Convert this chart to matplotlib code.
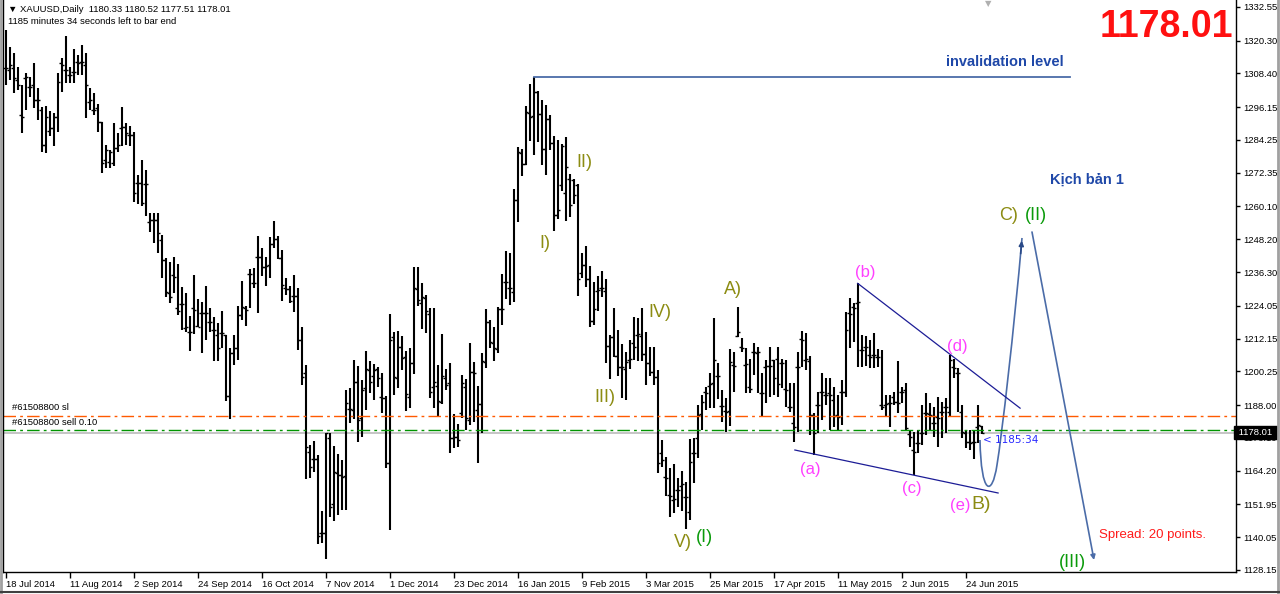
import matplotlib
matplotlib.use('Agg')
import numpy as np
import matplotlib.pyplot as plt
from matplotlib.path import Path
from matplotlib.patches import PathPatch
from matplotlib.lines import Line2D

# XAUUSD daily bars (one bar per trading day, 18 Jul 2014 .. 30 Jun 2015)
opens = [1310.2, 1309.6, 1310.2, 1306.0, 1293.3, 1306.6, 1303.6, 1304.2, 1298.8, 1295.1,
         1282.4, 1287.5, 1288.5, 1292.7, 1312.1, 1309.6, 1307.8, 1309.0, 1312.7, 1312.7,
         1311.5, 1298.2, 1295.1, 1295.7, 1290.9, 1277.0, 1276.4, 1275.8, 1281.2, 1288.5,
         1289.1, 1286.1, 1286.1, 1268.8, 1268.5, 1268.3, 1254.6, 1255.2, 1255.2, 1247.9,
         1240.7, 1228.6, 1235.2, 1223.1, 1224.7, 1216.0, 1214.7, 1223.1, 1216.8, 1221.3,
         1221.3, 1218.3, 1215.3, 1213.5, 1214.1, 1213.5, 1191.3, 1207.0, 1208.6, 1220.7,
         1223.1, 1235.5, 1232.2, 1241.6, 1241.6, 1238.3, 1238.9, 1246.5, 1248.2, 1241.3,
         1230.4, 1230.0, 1227.6, 1227.6, 1211.6, 1199.5, 1171.1, 1168.3, 1168.3, 1141.5,
         1141.7, 1176.0, 1152.0, 1163.5, 1162.5, 1162.3, 1186.5, 1186.2, 1196.5, 1183.2,
         1194.1, 1200.7, 1198.6, 1201.0, 1190.8, 1190.5, 1167.0, 1212.9, 1197.7, 1209.0,
         1205.6, 1190.8, 1203.4, 1230.0, 1225.2, 1226.8, 1221.1, 1194.5, 1194.9, 1189.3,
         1197.7, 1195.9, 1175.9, 1176.3, 1185.0, 1194.5, 1182.6, 1200.2, 1186.2, 1188.4,
         1203.8, 1218.3, 1210.7, 1208.2, 1222.8, 1232.8, 1230.4, 1229.2, 1262.5, 1279.6,
         1275.5, 1294.2, 1292.9, 1301.5, 1293.7, 1281.0, 1291.7, 1283.0, 1257.0, 1268.0,
         1265.0, 1270.0, 1269.7, 1267.9, 1235.9, 1238.9, 1233.7, 1218.7, 1229.6, 1230.4,
         1229.5, 1209.5, 1212.6, 1206.0, 1202.0, 1201.0, 1204.4, 1210.4, 1213.5, 1213.0,
         1206.6, 1203.2, 1200.2, 1198.3, 1170.5, 1162.0, 1155.4, 1153.6, 1157.2, 1158.6,
         1154.8, 1149.3, 1170.7, 1176.0, 1184.9, 1192.9, 1195.0, 1196.0, 1198.6, 1187.6,
         1185.8, 1186.0, 1202.6, 1213.1, 1209.0, 1202.6, 1194.7, 1207.4, 1207.0, 1192.3,
         1202.0, 1202.2, 1204.4, 1204.6, 1203.4, 1193.7, 1187.4, 1181.6, 1202.0, 1211.9,
         1204.4, 1204.0, 1184.4, 1188.0, 1192.9, 1191.7, 1192.3, 1190.0, 1184.4, 1192.9,
         1192.9, 1221.3, 1223.7, 1225.0, 1208.0, 1209.2, 1206.2, 1206.2, 1205.6, 1188.0,
         1188.0, 1188.6, 1191.1, 1189.3, 1192.9, 1193.5, 1177.5, 1171.7, 1174.1, 1177.8,
         1185.0, 1184.8, 1181.4, 1183.8, 1185.6, 1187.4, 1185.6, 1201.7, 1199.5, 1185.6,
         1177.8, 1174.7, 1174.7, 1180.2, 1180.33]
highs = [1324.2, 1318.1, 1315.7, 1310.9, 1304.2, 1308.4, 1307.2, 1312.1, 1303.0, 1296.3,
         1296.6, 1294.8, 1293.9, 1308.4, 1314.1, 1322.0, 1310.9, 1317.2, 1315.1, 1318.7,
         1315.7, 1303.0, 1301.4, 1297.2, 1290.9, 1282.4, 1280.6, 1290.5, 1286.7, 1296.3,
         1290.3, 1289.3, 1287.3, 1271.5, 1277.0, 1273.4, 1257.6, 1257.6, 1257.6, 1249.8,
         1241.3, 1240.1, 1241.6, 1239.2, 1231.0, 1228.6, 1220.3, 1235.2, 1226.7, 1225.5,
         1231.3, 1223.1, 1220.1, 1217.7, 1222.3, 1213.5, 1208.6, 1213.5, 1224.0, 1233.2,
         1224.0, 1237.3, 1237.6, 1249.4, 1244.9, 1241.6, 1248.9, 1254.8, 1249.4, 1244.3,
         1234.0, 1231.2, 1235.2, 1230.6, 1216.5, 1202.6, 1173.5, 1175.0, 1169.9, 1149.6,
         1177.8, 1177.8, 1173.2, 1170.3, 1168.1, 1193.5, 1194.1, 1204.4, 1202.2, 1197.2,
         1207.6, 1204.0, 1202.9, 1202.0, 1199.5, 1191.3, 1221.1, 1214.7, 1215.0, 1213.1,
         1207.8, 1208.6, 1238.3, 1238.3, 1232.2, 1228.0, 1223.1, 1223.1, 1202.6, 1213.9,
         1201.0, 1203.4, 1184.8, 1181.1, 1198.9, 1197.4, 1210.4, 1203.8, 1194.9, 1207.0,
         1222.8, 1218.9, 1216.2, 1223.5, 1235.6, 1243.9, 1243.1, 1266.3, 1281.6, 1280.9,
         1296.6, 1304.6, 1307.2, 1302.1, 1298.8, 1297.0, 1293.3, 1285.7, 1284.2, 1282.8,
         1285.2, 1271.9, 1270.0, 1268.3, 1243.1, 1245.8, 1238.5, 1232.8, 1234.9, 1236.8,
         1233.8, 1213.5, 1223.1, 1215.3, 1210.2, 1207.4, 1211.6, 1219.9, 1219.5, 1223.1,
         1214.7, 1209.0, 1209.2, 1200.7, 1175.3, 1169.3, 1165.1, 1166.6, 1161.4, 1164.2,
         1160.2, 1175.6, 1175.9, 1188.0, 1191.7, 1194.7, 1199.5, 1219.5, 1203.2, 1193.5,
         1190.5, 1208.2, 1207.4, 1223.7, 1212.2, 1208.6, 1204.6, 1210.4, 1209.2, 1199.5,
         1204.4, 1209.0, 1204.4, 1209.0, 1204.6, 1204.4, 1195.9, 1195.9, 1207.4, 1215.0,
         1214.1, 1206.0, 1185.3, 1192.9, 1199.5, 1197.7, 1197.7, 1194.7, 1191.7, 1197.1,
         1221.9, 1226.8, 1225.0, 1232.2, 1213.5, 1213.1, 1211.6, 1214.3, 1208.2, 1208.0,
         1191.7, 1191.7, 1192.9, 1204.1, 1194.7, 1195.9, 1179.0, 1178.4, 1179.0, 1188.0,
         1192.5, 1188.6, 1187.4, 1191.1, 1189.3, 1190.5, 1206.2, 1204.6, 1201.4, 1188.0,
         1179.0, 1179.0, 1179.0, 1188.0, 1180.52]
lows = [1304.2, 1306.0, 1301.4, 1302.4, 1286.9, 1295.1, 1300.0, 1295.7, 1291.5, 1280.0,
        1279.6, 1285.7, 1282.1, 1287.3, 1301.8, 1304.8, 1304.8, 1304.8, 1307.8, 1307.8,
        1292.1, 1295.1, 1293.3, 1287.3, 1272.4, 1274.0, 1274.0, 1274.8, 1280.0, 1282.1,
        1282.4, 1282.1, 1261.9, 1261.0, 1260.3, 1256.7, 1251.0, 1247.0, 1243.1, 1234.0,
        1227.1, 1225.2, 1228.6, 1220.7, 1215.3, 1214.7, 1207.8, 1213.8, 1216.5, 1206.8,
        1211.6, 1214.7, 1204.1, 1204.1, 1208.6, 1189.6, 1182.8, 1202.6, 1204.4, 1218.9,
        1216.8, 1223.1, 1230.6, 1221.6, 1234.9, 1231.2, 1234.3, 1244.9, 1241.0, 1225.9,
        1228.0, 1225.0, 1221.9, 1208.0, 1195.3, 1161.1, 1161.4, 1163.8, 1137.6, 1138.1,
        1132.0, 1147.3, 1146.1, 1148.0, 1150.0, 1150.0, 1181.4, 1182.8, 1174.7, 1176.5,
        1186.2, 1192.5, 1189.9, 1194.7, 1185.3, 1165.1, 1142.7, 1191.7, 1194.1, 1200.7,
        1186.0, 1186.8, 1199.2, 1224.0, 1215.5, 1214.1, 1190.5, 1187.1, 1183.6, 1188.4,
        1193.5, 1170.5, 1172.3, 1172.7, 1183.2, 1179.0, 1180.8, 1182.0, 1167.1, 1178.0,
        1201.4, 1208.6, 1204.1, 1207.0, 1217.1, 1226.4, 1224.4, 1225.6, 1254.6, 1271.2,
        1275.2, 1284.0, 1278.8, 1283.6, 1275.2, 1271.5, 1280.6, 1251.3, 1255.4, 1265.8,
        1255.0, 1256.2, 1261.0, 1227.6, 1234.0, 1230.7, 1216.2, 1217.1, 1222.3, 1227.1,
        1203.4, 1197.4, 1205.3, 1198.6, 1190.5, 1189.9, 1201.0, 1204.4, 1204.1, 1204.1,
        1195.3, 1198.6, 1195.3, 1163.5, 1165.4, 1155.0, 1147.5, 1149.0, 1151.1, 1149.7,
        1142.9, 1146.3, 1159.9, 1168.7, 1179.0, 1186.2, 1186.8, 1186.8, 1190.1, 1182.0,
        1178.4, 1180.4, 1192.9, 1212.8, 1207.4, 1192.3, 1192.5, 1198.9, 1192.5, 1183.8,
        1188.6, 1191.1, 1191.7, 1191.1, 1194.1, 1187.4, 1185.6, 1174.7, 1178.4, 1202.0,
        1200.7, 1177.2, 1169.9, 1177.8, 1182.6, 1188.0, 1179.0, 1180.2, 1179.0, 1180.8,
        1191.1, 1208.6, 1211.0, 1202.0, 1202.0, 1202.2, 1201.4, 1201.4, 1202.0, 1186.2,
        1183.8, 1180.2, 1188.0, 1185.0, 1188.6, 1179.0, 1172.9, 1162.6, 1170.5, 1173.5,
        1177.2, 1179.0, 1176.5, 1172.9, 1176.0, 1177.8, 1183.8, 1197.7, 1185.6, 1176.0,
        1172.3, 1171.7, 1168.3, 1174.4, 1177.51]
closes = [1310.2, 1311.5, 1306.6, 1304.2, 1292.7, 1307.2, 1303.6, 1298.8, 1298.8, 1282.4,
          1292.7, 1288.5, 1292.7, 1305.4, 1311.5, 1309.6, 1307.8, 1309.0, 1312.1, 1312.7,
          1304.2, 1298.8, 1295.1, 1290.9, 1276.0, 1280.6, 1280.0, 1281.2, 1282.4, 1289.1,
          1286.7, 1286.1, 1265.1, 1268.8, 1261.2, 1268.3, 1255.2, 1255.2, 1250.4, 1240.7,
          1229.2, 1227.4, 1234.4, 1222.3, 1224.7, 1216.2, 1214.7, 1222.5, 1216.5, 1221.3,
          1221.3, 1218.3, 1215.3, 1208.6, 1214.1, 1191.3, 1206.8, 1208.6, 1220.7, 1223.7,
          1222.7, 1235.5, 1232.2, 1241.6, 1238.3, 1238.5, 1246.5, 1248.2, 1241.3, 1231.6,
          1230.0, 1225.9, 1227.6, 1211.6, 1198.3, 1172.9, 1165.7, 1168.3, 1140.5, 1141.7,
          1177.8, 1151.1, 1163.8, 1162.6, 1162.0, 1188.7, 1186.5, 1196.5, 1182.6, 1193.5,
          1201.0, 1196.5, 1200.7, 1197.7, 1190.5, 1166.9, 1211.6, 1198.1, 1209.0, 1205.0,
          1191.9, 1203.2, 1230.6, 1226.2, 1227.1, 1222.3, 1192.9, 1196.5, 1189.6, 1198.6,
          1195.3, 1175.9, 1176.3, 1175.3, 1196.1, 1183.2, 1200.2, 1199.5, 1188.4, 1204.1,
          1218.3, 1211.0, 1208.6, 1222.8, 1222.8, 1232.8, 1230.4, 1262.5, 1280.0, 1275.5,
          1294.5, 1292.7, 1301.5, 1293.7, 1280.9, 1291.7, 1283.0, 1257.0, 1259.0, 1281.9,
          1274.6, 1260.6, 1264.3, 1233.7, 1238.9, 1233.7, 1218.7, 1222.8, 1229.8, 1230.4,
          1209.5, 1212.6, 1205.8, 1202.0, 1202.0, 1203.8, 1204.6, 1209.2, 1213.8, 1206.6,
          1203.2, 1200.2, 1198.3, 1166.9, 1168.1, 1161.4, 1155.0, 1153.8, 1157.2, 1159.4,
          1154.5, 1167.5, 1170.7, 1184.4, 1189.3, 1192.5, 1195.7, 1204.4, 1198.6, 1187.6,
          1185.6, 1203.8, 1202.2, 1214.7, 1208.6, 1202.9, 1193.7, 1207.4, 1207.4, 1192.5,
          1202.2, 1202.2, 1197.7, 1195.7, 1203.4, 1193.5, 1187.4, 1180.2, 1202.0, 1211.6,
          1204.6, 1184.4, 1178.0, 1188.0, 1192.9, 1191.7, 1191.7, 1184.0, 1183.8, 1192.9,
          1215.3, 1221.1, 1223.1, 1225.5, 1208.0, 1209.0, 1205.6, 1206.2, 1205.6, 1187.4,
          1188.4, 1188.6, 1189.3, 1188.6, 1192.9, 1179.6, 1176.5, 1171.1, 1174.4, 1178.0,
          1185.0, 1184.4, 1181.6, 1183.2, 1185.6, 1187.4, 1204.4, 1201.4, 1199.5, 1178.4,
          1174.7, 1174.4, 1174.7, 1180.8, 1178.01]

date_labels = ['18 Jul 2014', '11 Aug 2014', '2 Sep 2014', '24 Sep 2014', '16 Oct 2014',
               '7 Nov 2014', '1 Dec 2014', '23 Dec 2014', '16 Jan 2015', '9 Feb 2015',
               '3 Mar 2015', '25 Mar 2015', '17 Apr 2015', '11 May 2015', '2 Jun 2015',
               '24 Jun 2015']
price_ticks = [1332.55, 1320.30, 1308.40, 1296.15, 1284.25, 1272.35, 1260.10, 1248.20,
               1236.30, 1224.05, 1212.15, 1200.25, 1188.00, 1176.10, 1164.20, 1151.95,
               1140.05, 1128.15]

last_price = 1178.01
sl_price = 1184.2
entry_price = 1179.0
invalidation = 1307.2

olive = '#8c8c12'
pink = '#ff40ff'
green = '#0a9a0a'
navy = '#1c1c96'
steel = '#4b6ca8'
small = dict(family='Liberation Sans', fontsize=6.8)

fig = plt.figure(figsize=(12.8, 5.94), dpi=100)
ax = fig.add_axes([3 / 1280, 22 / 594, 1233 / 1280, 572 / 594])

x = np.arange(len(opens))
ax.vlines(x, lows, highs, color='black', lw=1.5)
ax.hlines(opens, x - 0.6, x, color='black', lw=1.0)
ax.hlines(closes, x, x + 0.6, color='black', lw=1.0)

ax.set_xlim(-0.67, 307.58)
ax.set_ylim(1127.42, 1335.06)

# horizontal order lines
ax.axhline(sl_price, color='#ff5a00', lw=1.0, ls=(0, (9, 3, 2, 3)))
ax.axhline(entry_price, color='#009400', lw=1.0, ls=(0, (9, 3, 2, 3)))
ax.axhline(last_price, color='#c0c0c0', lw=1.3, zorder=0)
ax.text(1.6, sl_price + 1.3, '#61508800 sl', va='bottom', **small)
ax.text(1.6, entry_price + 1.2, '#61508800 sell 0.10', va='bottom', **small)

# invalidation level
ax.plot([132, 266.1], [invalidation, invalidation], color=steel, lw=1.3)
ax.text(235.1, 1312.6, 'invalidation level', color='#1f48a8', fontsize=10.5,
        fontweight='bold', family='Liberation Sans', va='center')
ax.text(261.1, 1269.7, 'Kịch bản 1', color='#1f48a8', fontsize=10.5,
        fontweight='bold', family='Liberation Sans', va='center')

# triangle (a)-(e)
ax.plot([213, 253.6], [1232.2, 1186.9], color=navy, lw=0.9)
ax.plot([197.3, 248.1], [1171.7, 1156.1], color=navy, lw=0.9)

# scenario path
verts = [(243.58, 1175.34), (243.83, 1155.38), (246.58, 1154.29), (247.83, 1166.30),
         (249.08, 1177.52), (252.08, 1215.27), (254.08, 1248.67)]
codes = [Path.MOVETO] + [Path.CURVE4] * 6
ax.add_patch(PathPatch(Path(verts, codes), fc='none', ec=steel, lw=1.2))
ax.annotate('', xy=(254.08, 1248.67), xytext=(253.7, 1242.0),
            arrowprops=dict(arrowstyle='-|>', color='#2a4a88', lw=1.2, mutation_scale=7))
ax.annotate('', xy=(272.08, 1131.78), xytext=(256.58, 1250.84),
            arrowprops=dict(arrowstyle='-|>', color=steel, lw=1.2, mutation_scale=7,
                            shrinkA=0, shrinkB=0))

# wave labels
labels = [('I)', 134.8, 1246.8, olive, 13), ('II)', 144.6, 1275.9, olive, 13),
          ('III)', 149.8, 1190.9, olive, 13), ('IV)', 163.6, 1221.8, olive, 13),
          ('V)', 169.3, 1138.0, olive, 13), ('(I)', 174.8, 1140.1, green, 13),
          ('A)', 181.8, 1229.8, olive, 13), ('(a)', 201.1, 1164.8, pink, 12),
          ('(b)', 214.8, 1236.3, pink, 12), ('(c)', 226.6, 1157.9, pink, 12),
          ('(d)', 237.8, 1209.1, pink, 12), ('(e)', 238.6, 1151.7, pink, 12),
          ('B)', 243.8, 1152.1, olive, 14), ('C)', 250.6, 1256.7, olive, 13),
          ('(II)', 257.6, 1256.7, green, 13), ('(III)', 266.6, 1130.7, green, 13)]
for txt, lx, ly, col, fs in labels:
    ax.text(lx, ly, txt, color=col, fontsize=fs, family='Liberation Sans',
            ha='center', va='center')

ax.text(244.4, 1175.3, '< 1185:34', color='#2a2aff', fontsize=7.5, va='center')
ax.text(273.3, 1140.9, 'Spread: 20 points.', color='#ff1a1a', fontsize=9.5,
        family='Liberation Sans', va='center')

# axes styling
ax.yaxis.tick_right()
ax.set_yticks(price_ticks)
ax.set_yticklabels(['%.2f' % v for v in price_ticks], family='Liberation Sans')
ax.set_xticks(np.arange(len(date_labels)) * 16)
ax.set_xticklabels(date_labels, ha='left', family='Liberation Sans')
ax.tick_params(axis='both', direction='out', length=3, width=1, labelsize=6.8, pad=2,
               colors='black')
ax.tick_params(axis='x', length=4, pad=1.5)
for s in ['left', 'right', 'bottom']:
    ax.spines[s].set_color('black')
    ax.spines[s].set_linewidth(1.0)
ax.spines['top'].set_visible(False)

ax.text(1.0, last_price, ' 1178.01 ', transform=ax.get_yaxis_transform(), color='white',
        va='center', ha='left', zorder=10, family='Liberation Sans', fontsize=6.8,
        bbox=dict(boxstyle='square,pad=0.2', fc='black', ec='black'))

# header and big price
fig.text(8 / 1280, 1 - 9 / 594, '\u25bc XAUUSD,Daily  1180.33 1180.52 1177.51 1178.01',
         va='center', **small)
fig.text(8 / 1280, 1 - 22 / 594, '1185 minutes 34 seconds left to bar end',
         va='center', **small)
fig.text(1233 / 1280, 1 - 27 / 594, '1178.01', color='#ff1010', fontsize=27,
         fontweight='bold', family='Liberation Sans', ha='right', va='center')
fig.text(988 / 1280, 1 - 4 / 594, '\u25bc', color='#b0b0b0', fontsize=6,
         ha='center', va='center')

# outer window frame
fig.add_artist(Line2D([1 / 1280, 1 / 1280], [0, 1], color='#a0a0a0', lw=2))
fig.add_artist(Line2D([1278 / 1280, 1278 / 1280], [0, 1], color='#a0a0a0', lw=2))
fig.add_artist(Line2D([0, 1], [2 / 594, 2 / 594], color='#404040', lw=1.5))

fig.savefig('out.png', dpi=100)
